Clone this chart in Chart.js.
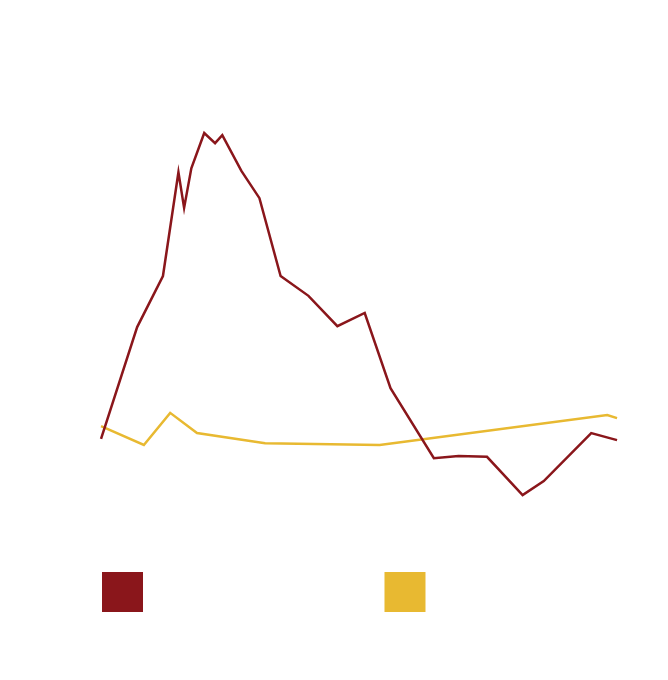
<!DOCTYPE html>
<html>
<head>
<meta charset="utf-8">
<script src="https://cdn.jsdelivr.net/npm/chart.js@4/dist/chart.umd.min.js"></script>
<style>
  html, body { margin: 0; padding: 0; background: #fff; }
  #wrap { width: 668px; height: 680px; }
</style>
</head>
<body>
<div id="wrap"><canvas id="chart"></canvas></div>
<script>
// series names (text in the reference is white on white)
const seriesNames = ['Series A: first series in the chart (red)', 'Series B (yellow)'];

// red series
const redX = [0, 7.0, 12.0, 15.0, 16.1, 17.5, 20.0, 22.1, 23.5, 27.2, 30.7, 34.8, 40.2, 45.8, 51.1, 56.1, 64.5, 69.3, 74.8, 81.7, 85.8, 95.0, 100];
const redY = [23.0, 48.4, 60.0, 83.6, 75.5, 84.5, 92.5, 90.2, 92.0, 83.9, 77.7, 60.0, 55.5, 48.6, 51.6, 34.5, 18.6, 19.1, 18.9, 10.2, 13.4, 24.3, 22.7];

// yellow series
const yellowX = [0, 8.3, 13.4, 18.6, 31.8, 54.0, 98.1, 100];
const yellowY = [25.9, 21.6, 28.9, 24.3, 22.0, 21.6, 28.4, 27.7];

const colors = ['#8a161b', '#e8b931'];

function toPoints(xs, ys) {
    return xs.map((x, i) => ({ x: x, y: ys[i] }));
}

const ctx = document.getElementById('chart').getContext('2d');
new Chart(ctx, {
    type: 'line',
    data: {
        datasets: [{
            label: seriesNames[0],
            data: toPoints(redX, redY),
            borderColor: colors[0],
            backgroundColor: colors[0],
            borderWidth: 2.5,
            pointRadius: 0,
            tension: 0,
        }, {
            label: seriesNames[1],
            data: toPoints(yellowX, yellowY),
            borderColor: colors[1],
            backgroundColor: colors[1],
            borderWidth: 2.5,
            pointRadius: 0,
            tension: 0,
        }],
    },
    options: {
        responsive: true,
        maintainAspectRatio: false,
        animation: false,
        layout: {
            padding: { top: 20, left: 92, right: 20, bottom: 58 },
        },
        scales: {
            x: {
                type: 'linear',
                display: false,
                min: -1.75,
                max: 106.0,
            },
            y: {
                display: false,
                min: -5.0,
                max: 118.2,
            },
        },
        plugins: {
            tooltip: { enabled: false },
            legend: {
                display: true,
                position: 'bottom',
                align: 'start',
                labels: {
                    color: '#ffffff',
                    boxWidth: 41,
                    boxHeight: 40,
                    padding: 10,
                    font: { family: 'DejaVu Sans', size: 12 },
                    generateLabels: (chart) => chart.data.datasets.map((ds, i) => ({
                        text: ds.label,
                        fillStyle: ds.borderColor,
                        strokeStyle: ds.borderColor,
                        lineWidth: 0,
                        datasetIndex: i,
                        fontColor: '#ffffff',
                    })),
                },
            },
        },
    },
});
</script>
</body>
</html>
